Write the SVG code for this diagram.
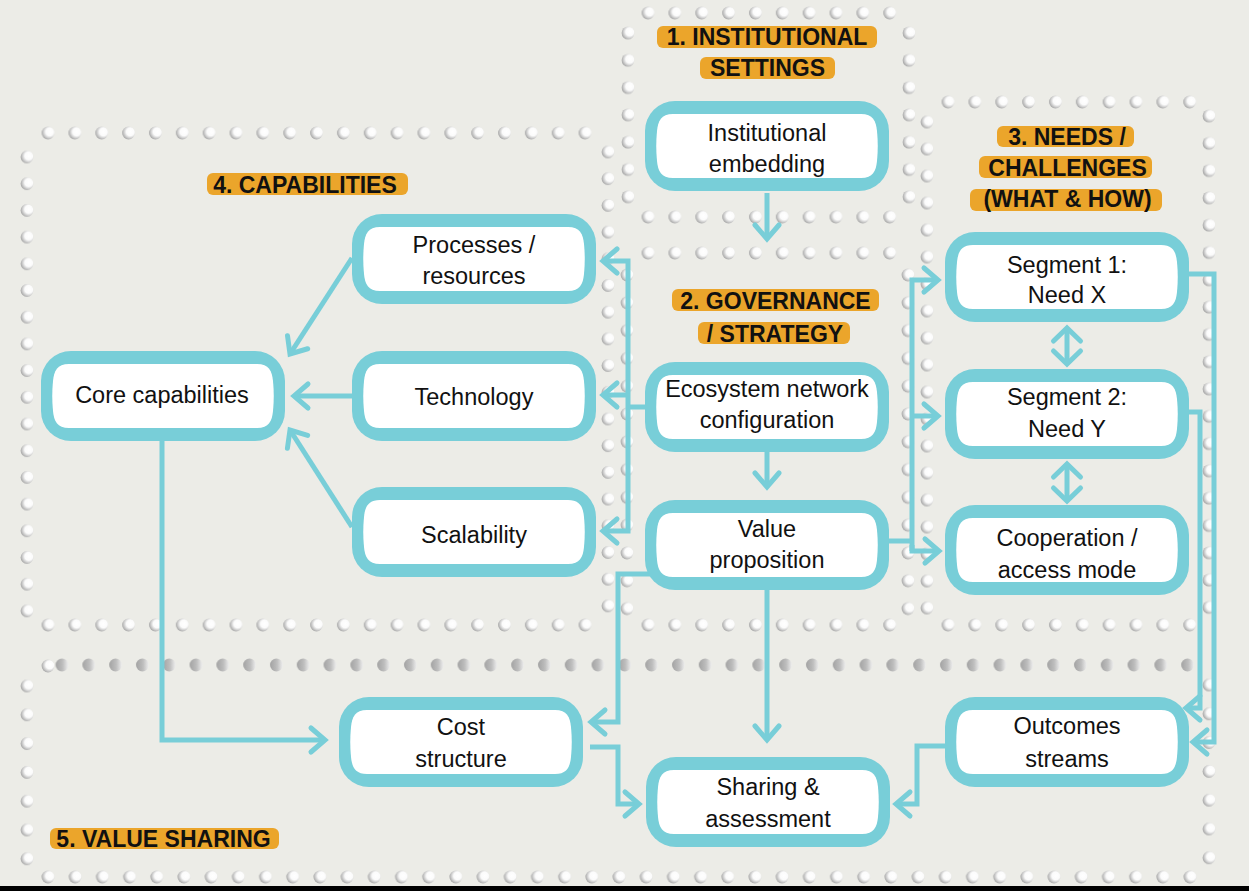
<svg xmlns="http://www.w3.org/2000/svg" xmlns:xlink="http://www.w3.org/1999/xlink" width="1249" height="891" viewBox="0 0 1249 891">
<style>
.t{font-family:"Liberation Sans",Arial,sans-serif;font-size:23.5px;fill:#111;text-anchor:middle}
.lb{font-family:"Liberation Sans",Arial,sans-serif;font-weight:bold;font-size:23px;fill:#111;text-anchor:middle}
.pill{fill:#EBA52B}
.con{fill:none;stroke:#78CED8;stroke-width:5;stroke-linejoin:miter}
.arr{marker-end:url(#ah)}
.dbl{marker-start:url(#ah2);marker-end:url(#ah2)}
</style>
<defs>
<radialGradient id="dg" cx="0.62" cy="0.42" r="0.62" fx="0.66" fy="0.4"><stop offset="0" stop-color="#ffffff"/><stop offset="0.5" stop-color="#fbfbfb"/><stop offset="1" stop-color="#a9a9a9"/></radialGradient>
<linearGradient id="dg2" x1="0" y1="0" x2="1" y2="0"><stop offset="0" stop-color="#a3a3a3"/><stop offset="0.55" stop-color="#bdbdbd"/><stop offset="1" stop-color="#eeeeee"/></linearGradient>
<circle id="dot" r="6.4" fill="url(#dg)"/>
<circle id="gdot" r="6.4" fill="url(#dg2)"/>
<pattern id="pH" patternUnits="userSpaceOnUse" width="26.85" height="20"><use href="#dot" x="13.425" y="10"/></pattern>
<pattern id="pH5" patternUnits="userSpaceOnUse" width="27.19" height="20"><use href="#dot" x="13.595" y="10"/></pattern>
<pattern id="pHg" patternUnits="userSpaceOnUse" width="26.8" height="20"><use href="#gdot" x="13.4" y="10"/></pattern>
<pattern id="pV" patternUnits="userSpaceOnUse" width="20" height="26.7"><use href="#dot" x="10" y="13.35"/></pattern>
<pattern id="pV1" patternUnits="userSpaceOnUse" width="20" height="27.3"><use href="#dot" x="10" y="13.65"/></pattern>
<pattern id="pV2" patternUnits="userSpaceOnUse" width="20" height="27.8"><use href="#dot" x="10" y="13.9"/></pattern>
<pattern id="pV3" patternUnits="userSpaceOnUse" width="20" height="27"><use href="#dot" x="10" y="13.5"/></pattern>
<pattern id="pV5" patternUnits="userSpaceOnUse" width="20" height="28.8"><use href="#dot" x="10" y="14.4"/></pattern>
<marker id="ah" viewBox="-22 -18 28 36" refX="0" refY="0" markerWidth="28" markerHeight="36" markerUnits="userSpaceOnUse" orient="auto"><path d="M-14,-12 L0,0 L-14,12" fill="none" stroke="#78CED8" stroke-width="5" stroke-linecap="round"/></marker>
<marker id="ah2" viewBox="-22 -18 28 36" refX="0" refY="0" markerWidth="28" markerHeight="36" markerUnits="userSpaceOnUse" orient="auto-start-reverse"><path d="M-13,-13.5 L0,0 L-13,13.5" fill="none" stroke="#78CED8" stroke-width="5" stroke-linecap="round"/></marker>
<g id="box"><rect width="244" height="90" rx="30" fill="#78CED8"/><path d="M28,13 H216 C228,13 231,20 232,30 C233,40 233,50 232,60 C231,70 228,77 216,77 H28 C16,77 13,70 12,60 C11,50 11,40 12,30 C13,20 16,13 28,13 Z" fill="#fff"/></g>
</defs>
<rect width="1249" height="891" fill="#ECECE7"/>
<g id="dots">
<g transform="translate(634.6,3)"><rect width="268.5" height="20" fill="url(#pH)"/></g>
<g transform="translate(634.6,207)"><rect width="268.5" height="20" fill="url(#pH)"/></g>
<g transform="translate(618,19.35)"><rect width="20" height="191.1" fill="url(#pV1)"/></g>
<g transform="translate(899,19.35)"><rect width="20" height="191.1" fill="url(#pV1)"/></g>
<g transform="translate(634.6,243)"><rect width="268.5" height="20" fill="url(#pH)"/></g>
<g transform="translate(634.6,615)"><rect width="268.5" height="20" fill="url(#pH)"/></g>
<g transform="translate(617,261.1)"><rect width="20" height="361.4" fill="url(#pV2)"/></g>
<g transform="translate(898,261.1)"><rect width="20" height="361.4" fill="url(#pV2)"/></g>
<g transform="translate(934.6,92)"><rect width="268.5" height="20" fill="url(#pH)"/></g>
<g transform="translate(934.6,615)"><rect width="268.5" height="20" fill="url(#pH)"/></g>
<g transform="translate(917,108.5)"><rect width="20" height="513" fill="url(#pV3)"/></g>
<g transform="translate(1199,102.35)"><rect width="20" height="518.7" fill="url(#pV1)"/></g>
<g transform="translate(34.6,123)"><rect width="563.85" height="20" fill="url(#pH)"/></g>
<g transform="translate(34.6,615)"><rect width="563.85" height="20" fill="url(#pH)"/></g>
<g transform="translate(17,143.65)"><rect width="20" height="480.6" fill="url(#pV)"/></g>
<g transform="translate(598,138.65)"><rect width="20" height="480.6" fill="url(#pV)"/></g>
<use href="#dot" x="48" y="666"/>
<g transform="translate(48.6,655)"><rect width="1152.4" height="20" fill="url(#pHg)"/></g>
<g transform="translate(34.4,867)"><rect width="1169.2" height="20" fill="url(#pH5)"/></g>
<g transform="translate(17,671.6)"><rect width="20" height="201.6" fill="url(#pV5)"/></g>
<g transform="translate(1199,670.6)"><rect width="20" height="201.6" fill="url(#pV5)"/></g>
</g>
<g id="labels">
<rect class="pill" x="657" y="26" width="220" height="22" rx="6"/><text class="lb" x="767" y="45">1. INSTITUTIONAL</text>
<rect class="pill" x="700" y="57" width="135" height="22" rx="6"/><text class="lb" x="767.5" y="76">SETTINGS</text>
<rect class="pill" x="672" y="289" width="207" height="22" rx="6"/><text class="lb" x="775.5" y="309">2. GOVERNANCE</text>
<rect class="pill" x="698" y="322" width="152" height="22" rx="6"/><text class="lb" x="775" y="342">/ STRATEGY</text>
<rect class="pill" x="997" y="126" width="137" height="21" rx="6"/><text class="lb" x="1067" y="145">3. NEEDS /</text>
<rect class="pill" x="979" y="156" width="173" height="22" rx="6"/><text class="lb" x="1067.5" y="176">CHALLENGES</text>
<rect class="pill" x="970" y="189" width="192" height="22" rx="6"/><text class="lb" x="1067.5" y="207">(WHAT &amp; HOW)</text>
<rect class="pill" x="207" y="173" width="201" height="22" rx="6"/><text class="lb" x="305" y="193">4. CAPABILITIES</text>
<rect class="pill" x="50" y="828" width="229" height="21" rx="6"/><text class="lb" x="163.5" y="847">5. VALUE SHARING</text>
</g>
<g id="connectors">
<path class="con arr" d="M767,193 V239"/>
<path class="con" d="M645,407 H628"/>
<path class="con arr" d="M628,407 V261 H603"/>
<path class="con arr" d="M628,395 H603"/>
<path class="con arr" d="M628,407 V531 H603"/>
<path class="con arr" d="M767,452 V487"/>
<path class="con" d="M889,541 H912"/>
<path class="con arr" d="M912,551 V280 H938"/>
<path class="con arr" d="M912,416 H938"/>
<path class="con arr" d="M912,545 V551 H939"/>
<path class="con arr" d="M352,258 L290,354"/>
<path class="con arr" d="M352,396 H294"/>
<path class="con arr" d="M352,527 L290,430"/>
<path class="con arr" d="M162,441 V740 H325"/>
<path class="con arr" d="M650,574 H618 V722 H591"/>
<path class="con arr" d="M590,747 H618 V804 H639"/>
<path class="con arr" d="M767,590 V740"/>
<path class="con arr" d="M947,746 H917 V804 H896"/>
<path class="con arr" d="M1189,274 H1214 V742 H1193"/>
<path class="con arr" d="M1189,412 H1200 V708 H1186"/>
<path class="con dbl" d="M1067,328 V364"/>
<path class="con dbl" d="M1067,464 V501"/>
</g>
<g id="n-institutional"><use href="#box" x="645" y="101"/><text class="t" x="767" y="141">Institutional</text><text class="t" x="767" y="172">embedding</text></g>
<g id="n-ecosystem"><use href="#box" x="645" y="362"/><text class="t" x="767" y="397">Ecosystem network</text><text class="t" x="767" y="428">configuration</text></g>
<g id="n-value"><use href="#box" x="645" y="500"/><text class="t" x="767" y="537">Value</text><text class="t" x="767" y="568">proposition</text></g>
<g id="n-core"><use href="#box" x="41" y="351"/><text class="t" x="162" y="403">Core capabilities</text></g>
<g id="n-processes"><use href="#box" x="352" y="214"/><text class="t" x="474" y="253">Processes /</text><text class="t" x="474" y="284">resources</text></g>
<g id="n-technology"><use href="#box" x="352" y="351"/><text class="t" x="474" y="405">Technology</text></g>
<g id="n-scalability"><use href="#box" x="352" y="487"/><text class="t" x="474" y="543">Scalability</text></g>
<g id="n-segment1"><use href="#box" x="945" y="232"/><text class="t" x="1067" y="273">Segment 1:</text><text class="t" x="1067" y="303">Need X</text></g>
<g id="n-segment2"><use href="#box" x="945" y="369"/><text class="t" x="1067" y="405">Segment 2:</text><text class="t" x="1067" y="437">Need Y</text></g>
<g id="n-cooperation"><use href="#box" x="945" y="505"/><text class="t" x="1067" y="546">Cooperation /</text><text class="t" x="1067" y="578">access mode</text></g>
<g id="n-cost"><use href="#box" x="339" y="697"/><text class="t" x="461" y="735">Cost</text><text class="t" x="461" y="767">structure</text></g>
<g id="n-outcomes"><use href="#box" x="945" y="697"/><text class="t" x="1067" y="734">Outcomes</text><text class="t" x="1067" y="767">streams</text></g>
<g id="n-sharing"><use href="#box" x="646" y="757"/><text class="t" x="768" y="795">Sharing &amp;</text><text class="t" x="768" y="827">assessment</text></g>
<rect x="0" y="886" width="1249" height="5" fill="#000"/>
</svg>
